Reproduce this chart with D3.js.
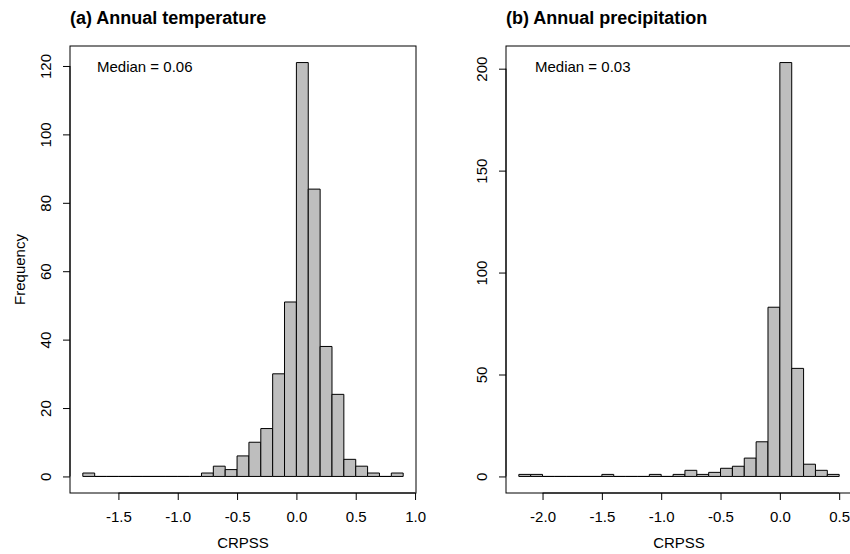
<!DOCTYPE html>
<html>
<head>
<meta charset="utf-8">
<script src="https://cdn.jsdelivr.net/npm/d3@7"></script>
<style>
  html, body { margin: 0; padding: 0; background: #fff; }
  svg { display: block; }
  text { font-family: "Liberation Sans", Arial, Helvetica, sans-serif; fill: #000; }
</style>
</head>
<body>
<svg id="chart" width="850" height="554"></svg>
<script>
// ---- Data ----
const tempBinStarts = [-1.8, -1.7, -1.6, -1.5, -1.4, -1.3, -1.2, -1.1, -1.0, -0.9,
                       -0.8, -0.7, -0.6, -0.5, -0.4, -0.3, -0.2, -0.1, 0.0, 0.1,
                       0.2, 0.3, 0.4, 0.5, 0.6, 0.7, 0.8];
const tempCounts = [1, 0, 0, 0, 0, 0, 0, 0, 0, 0,
                    1, 3, 2, 6, 10, 14, 30, 51, 121, 84,
                    38, 24, 5, 3, 1, 0, 1];
const precipBinStarts = [-2.2, -2.1, -2.0, -1.9, -1.8, -1.7, -1.6, -1.5, -1.4, -1.3,
                         -1.2, -1.1, -1.0, -0.9, -0.8, -0.7, -0.6, -0.5, -0.4, -0.3,
                         -0.2, -0.1, 0.0, 0.1, 0.2, 0.3, 0.4];
const precipCounts = [1, 1, 0, 0, 0, 0, 0, 1, 0, 0,
                      0, 1, 0, 1, 3, 1, 2, 4, 5, 9,
                      17, 83, 203, 53, 6, 3, 1];
const binWidth = 0.1;
const tempXTicks = [-1.5, -1.0, -0.5, 0.0, 0.5, 1.0];
const tempYTicks = [0, 20, 40, 60, 80, 100, 120];
const precipXTicks = [-2.0, -1.5, -1.0, -0.5, 0.0, 0.5];
const precipYTicks = [0, 50, 100, 150, 200];
const titles = ["(a) Annual temperature", "(b) Annual precipitation"];
const medianLabels = ["Median = 0.06", "Median = 0.03"];
const xLabel = "CRPSS";
const yLabel = "Frequency";

// ---- Layout ----
const svg = d3.select("#chart");
const plotTop = 46, plotBottom = 493;
const fontStack = "'Liberation Sans', Arial, Helvetica, sans-serif";

function panel(cfg) {
  const {starts, counts, xTicks, yTicks, title, median, left, right, showYLabel} = cfg;
  const xmin = d3.min(starts), xmax = d3.max(starts) + binWidth;
  const xr = xmax - xmin;
  const ymax = d3.max(counts);
  const x = d3.scaleLinear().domain([xmin - 0.04 * xr, xmax + 0.04 * xr]).range([left, right]);
  const y = d3.scaleLinear().domain([-0.04 * ymax, ymax * 1.04]).range([plotBottom, plotTop]);
  const g = svg.append("g");

  // bars
  const data = starts.map((s, i) => ({s, c: counts[i]}));
  g.selectAll("path.bar").data(data).join("path")
    .attr("class", "bar")
    .attr("d", d => {
      const x0 = x(d.s), x1 = x(d.s + binWidth), y0 = y(0), y1 = y(d.c);
      return `M${x0},${y0}H${x1}V${y1}H${x0}Z`;
    })
    .attr("fill", "#bebebe")
    .attr("stroke", "#000")
    .attr("stroke-width", 1);

  // box
  g.append("rect")
    .attr("x", left).attr("y", plotTop)
    .attr("width", right - left).attr("height", plotBottom - plotTop)
    .attr("fill", "none").attr("stroke", "#000").attr("stroke-width", 1);

  // x axis
  const xa = g.append("g").attr("transform", `translate(0,${plotBottom})`)
    .call(d3.axisBottom(x).tickValues(xTicks).tickSize(7).tickPadding(0));
  xa.select(".domain").attr("d", `M${x(xTicks[0])},0H${x(xTicks[xTicks.length - 1])}`).attr("stroke", "#000");
  xa.selectAll(".tick line").attr("stroke", "#000");
  xa.selectAll(".tick text").attr("y", 24).attr("dy", "0.35em")
    .style("font-size", "15px").style("font-family", fontStack)
    .attr("fill", "#000")
    .text(d => d3.format(".1f")(d).replace("\u2212", "-"));

  // y axis
  const ya = g.append("g").attr("transform", `translate(${left},0)`)
    .call(d3.axisLeft(y).tickValues(yTicks).tickSize(7).tickPadding(0).tickFormat(d3.format("d")));
  ya.select(".domain").attr("d", `M0,${y(yTicks[0])}V${y(yTicks[yTicks.length - 1])}`).attr("stroke", "#000");
  ya.selectAll(".tick line").attr("stroke", "#000");
  ya.selectAll(".tick text")
    .attr("x", null)
    .attr("text-anchor", "middle")
    .attr("transform", "translate(-24,0) rotate(-90)")
    .attr("dy", "0.35em")
    .style("font-size", "15px").style("font-family", fontStack)
    .attr("fill", "#000");

  // title
  g.append("text").attr("x", left).attr("y", 24)
    .attr("font-size", 18).attr("font-weight", "bold").text(title);

  // median label
  g.append("text").attr("x", left + cfg.medOffset).attr("y", plotTop + 21).attr("dy", "0.35em")
    .attr("font-size", 15).text(median);

  // x label
  g.append("text").attr("x", (left + right) / 2).attr("y", 543).attr("dy", "0.35em")
    .attr("text-anchor", "middle").attr("font-size", 15).text(xLabel);

  if (showYLabel) {
    g.append("text")
      .attr("transform", `translate(${left - 50},${(plotTop + plotBottom) / 2}) rotate(-90)`)
      .attr("text-anchor", "middle").attr("dy", "0.35em")
      .attr("font-size", 15).text(yLabel);
  }
}

panel({starts: tempBinStarts, counts: tempCounts, xTicks: tempXTicks, yTicks: tempYTicks,
       title: titles[0], median: medianLabels[0], left: 70, right: 416, showYLabel: true, medOffset: 27});
panel({starts: precipBinStarts, counts: precipCounts, xTicks: precipXTicks, yTicks: precipYTicks,
       title: titles[1], median: medianLabels[1], left: 506, right: 852, showYLabel: false, medOffset: 29});
</script>
</body>
</html>
